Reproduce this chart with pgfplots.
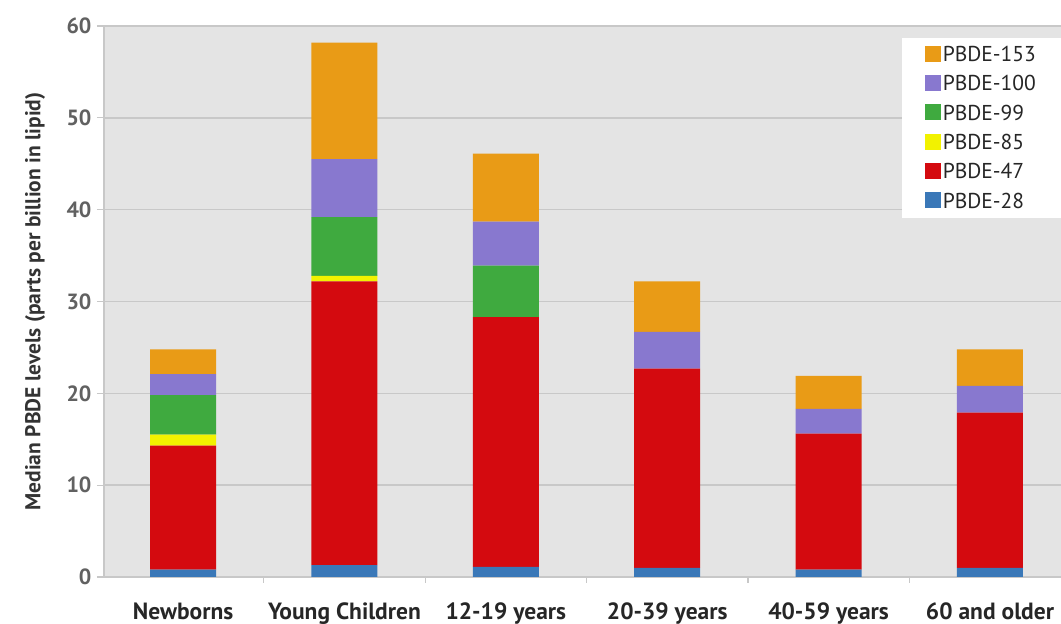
\documentclass[border=0pt]{standalone}
\usepackage{fontspec}
\setmainfont{PT Sans}
\usepackage{pgfplots}
\usepackage{pgfplotstable}
\pgfplotsset{compat=1.18}
\usetikzlibrary{calc}
\definecolor{c28}{HTML}{3A78B8}
\definecolor{c47}{HTML}{D40A0F}
\definecolor{c85}{HTML}{F2F200}
\definecolor{c99}{HTML}{3FAA3F}
\definecolor{c100}{HTML}{8878CF}
\definecolor{c153}{HTML}{E99B16}
\definecolor{plotbg}{HTML}{E4E4E4}
\definecolor{gridc}{HTML}{C8C8C8}
\pgfplotstableread{
x b28 b47 b85 b99 b100 b153
0 0.8 13.5 1.2 4.3 2.3 2.7
1 1.3 30.9 0.6 6.4 6.3 12.7
2 1.1 27.2 0 5.6 4.8 7.4
3 1.0 21.7 0 0 4.0 5.5
4 0.8 14.8 0 0 2.7 3.6
5 1.0 16.9 0 0 2.9 4.0
}\datatable
\begin{document}
\begin{tikzpicture}
\begin{axis}[
  scale only axis,
  width=957pt, height=551pt,
  ybar stacked, bar width=66pt,
  xmin=-0.49, xmax=5.44,
  ymin=0, ymax=60,
  ytick={0,10,...,60},
  xtick={0,...,5},
  xticklabels={Newborns,Young Children,12-19 years,20-39 years,40-59 years,60 and older},
  minor xtick={-0.5,0.5,1.5,2.5,3.5,4.5},
  major x tick style={draw=none},
  minor tick length=6pt,
  major tick length=7pt,
  tick align=outside,
  axis x line*=bottom, axis y line*=left,
  axis line style={draw=gridc, line width=1.5pt},
  tick style={draw=gridc, line width=1.2pt},
  axis background/.style={fill=plotbg},
  ymajorgrids, grid style={draw=gridc, line width=1.5pt},
  /pgf/number format/assume math mode=true,
  yticklabel style={font=\fontsize{22}{24}\selectfont\bfseries, text=black!62, xshift=-2pt},
  xticklabel style={font=\fontsize{23.5}{26}\selectfont\bfseries, text=black!85, anchor=north, yshift=-15pt},
  ylabel={Median PBDE levels (parts per billion in lipid)},
  ylabel style={font=\fontsize{21.5}{24}\selectfont\bfseries, text=black!80, at={(axis description cs:-0.072,0.5)}, anchor=center},
  reverse legend,
  legend cell align=left,
  legend image code/.code={\fill[#1,draw=none] (0pt,-7pt) rectangle (16pt,9pt);},
  legend style={at={(1,0.978)}, anchor=north east, draw=none, fill=white,
    font=\fontsize{21.5}{24}\selectfont, text=black!85, row sep=8.5pt,
    inner xsep=23pt, inner ysep=6pt},
]
\addplot[fill=c28, draw=none] table[x=x,y=b28]{\datatable};
\addplot[fill=c47, draw=none] table[x=x,y=b47]{\datatable};
\addplot[fill=c85, draw=none] table[x=x,y=b85]{\datatable};
\addplot[fill=c99, draw=none] table[x=x,y=b99]{\datatable};
\addplot[fill=c100, draw=none] table[x=x,y=b100]{\datatable};
\addplot[fill=c153, draw=none] table[x=x,y=b153]{\datatable};
\legend{PBDE-28,PBDE-47,PBDE-85,PBDE-99,PBDE-100,PBDE-153}
\end{axis}
\pgfresetboundingbox
\path[use as bounding box] ($(current axis.south west)+(-104pt,-47pt)$) rectangle ($(current axis.south west)+(957pt,577pt)$);
\end{tikzpicture}
\end{document}
